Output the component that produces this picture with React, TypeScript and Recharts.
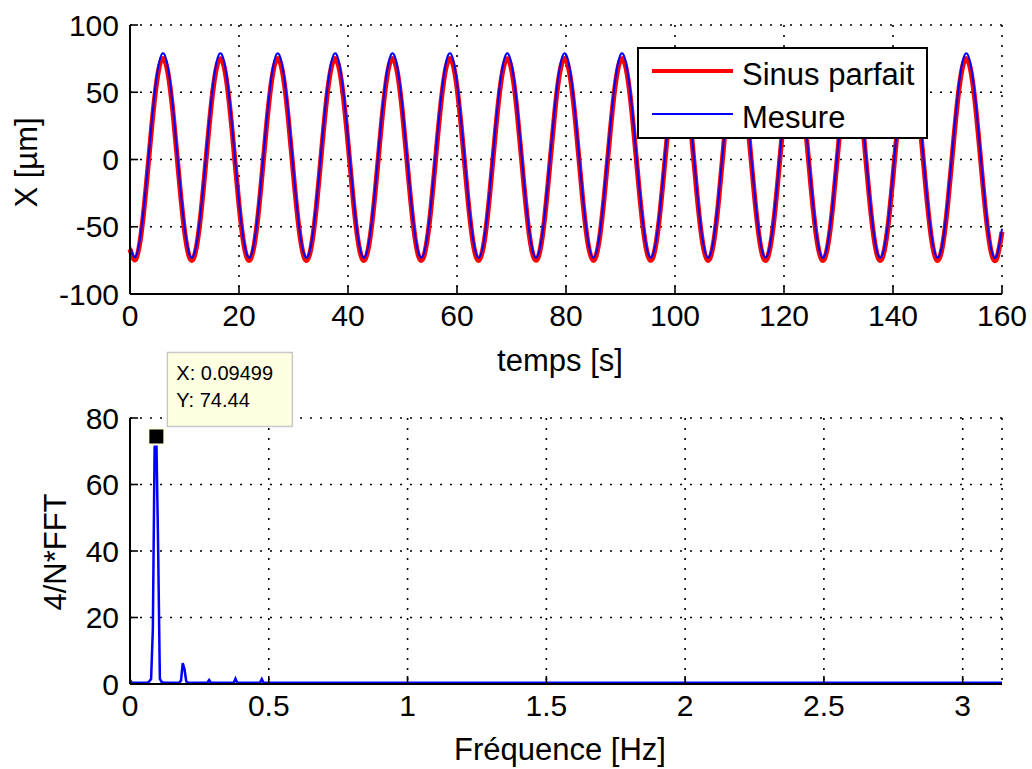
import React from 'react';
import { LineChart, Line, XAxis, YAxis, CartesianGrid, Legend, ReferenceDot, Label } from 'recharts';

const FONT = '"Liberation Sans", Arial, Helvetica, sans-serif';

// ---- top plot: time signal ----
const temps = [
  0, 1, 2, 3, 4, 5, 6, 7, 8, 9, 10, 11, 12, 13, 14, 15, 16, 17, 18, 19,
  20, 21, 22, 23, 24, 25, 26, 27, 28, 29, 30, 31, 32, 33, 34, 35, 36, 37, 38, 39,
  40, 41, 42, 43, 44, 45, 46, 47, 48, 49, 50, 51, 52, 53, 54, 55, 56, 57, 58, 59,
  60, 61, 62, 63, 64, 65, 66, 67, 68, 69, 70, 71, 72, 73, 74, 75, 76, 77, 78, 79,
  80, 81, 82, 83, 84, 85, 86, 87, 88, 89, 90, 91, 92, 93, 94, 95, 96, 97, 98, 99,
  100, 101, 102, 103, 104, 105, 106, 107, 108, 109, 110, 111, 112, 113, 114, 115, 116, 117, 118, 119,
  120, 121, 122, 123, 124, 125, 126, 127, 128, 129, 130, 131, 132, 133, 134, 135, 136, 137, 138, 139,
  140, 141, 142, 143, 144, 145, 146, 147, 148, 149, 150, 151, 152, 153, 154, 155, 156, 157, 158, 159,
  160,
];

const sinusParfait = [
  -66.7, -74.4, -56.5, -19.0, 25.1, 60.5, 75.0, 63.5, 30.1, -13.7,
  -52.8, -73.6, -69.0, -40.5, 2.0, 43.8, 70.4, 72.7, 49.9, 9.8,
  -33.7, -65.5, -74.7, -58.1, -21.3, 22.8, 59.0, 74.8, 64.8, 32.3,
  -11.3, -51.0, -73.1, -69.9, -42.6, -0.5, 41.8, 69.5, 73.3, 51.7,
  12.2, -31.5, -64.3, -74.9, -59.6, -23.7, 20.4, 57.4, 74.6, 66.0,
  34.6, -8.8, -49.1, -72.5, -70.8, -44.6, -2.9, 39.7, 68.6, 73.8,
  53.5, 14.7, -29.2, -63.0, -75.0, -61.1, -26.0, 18.0, 55.8, 74.3,
  67.1, 36.7, -6.4, -47.3, -71.8, -71.5, -46.5, -5.4, 37.6, 67.6,
  74.2, 55.2, 17.1, -26.9, -61.6, -75.0, -62.5, -28.3, 15.6, 54.1,
  74.0, 68.2, 38.9, -3.9, -45.3, -71.1, -72.2, -48.4, -7.9, 35.4,
  66.5, 74.5, 56.8, 19.5, -24.6, -60.2, -74.9, -63.8, -30.6, 13.2,
  52.4, 73.5, 69.2, 40.9, -1.5, -43.3, -70.3, -72.9, -50.3, -10.3,
  33.2, 65.3, 74.8, 58.4, 21.8, -22.3, -58.7, -74.8, -65.0, -32.8,
  10.8, 50.6, 73.0, 70.1, 43.0, 1.0, -41.3, -69.4, -73.4, -52.1,
  -12.8, 31.0, 64.0, 74.9, 59.9, 24.2, -19.9, -57.1, -74.6, -66.2,
  -35.0, 8.3, 48.8, 72.4, 70.9, 45.0, 3.5, -39.2, -68.4, -73.9,
  -53.8,
];

const mesure = [
  -64.6, -72.4, -54.2, -16.2, 28.4, 64.3, 79.0, 67.4, 33.5, -10.9,
  -50.5, -71.6, -66.9, -38.0, 5.0, 47.4, 74.4, 76.7, 53.6, 12.9,
  -31.1, -63.4, -72.7, -55.8, -18.6, 26.1, 62.8, 78.8, 68.6, 35.8,
  -8.4, -48.7, -71.1, -67.8, -40.1, 2.5, 45.3, 73.5, 77.3, 55.4,
  15.4, -28.9, -62.1, -72.9, -57.4, -21.0, 23.7, 61.2, 78.6, 69.9,
  38.0, -6.0, -46.8, -70.5, -68.7, -42.2, 0.0, 43.2, 72.5, 77.8,
  57.2, 17.9, -26.6, -60.8, -73.0, -58.9, -23.4, 21.3, 59.6, 78.3,
  71.0, 40.2, -3.5, -44.9, -69.8, -69.5, -44.1, -2.5, 41.1, 71.5,
  78.2, 58.9, 20.3, -24.3, -59.4, -73.0, -60.3, -25.7, 18.8, 57.9,
  77.9, 72.1, 42.4, -1.0, -42.9, -69.0, -70.2, -46.1, -5.0, 38.9,
  70.3, 78.5, 60.6, 22.7, -21.9, -58.0, -72.9, -61.6, -28.0, 16.4,
  56.1, 77.5, 73.1, 44.5, 1.5, -40.9, -68.2, -70.8, -48.0, -7.5,
  36.7, 69.1, 78.7, 62.2, 25.1, -19.6, -56.5, -72.8, -62.9, -30.3,
  13.9, 54.3, 76.9, 74.0, 46.6, 4.0, -38.9, -67.3, -71.4, -49.8,
  -9.9, 34.4, 67.9, 78.9, 63.7, 27.5, -17.2, -54.9, -72.6, -64.1,
  -32.5, 11.4, 52.4, 76.3, 74.9, 48.6, 6.5, -36.8, -66.3, -71.9,
  -51.5,
];

const seriesNames = ['Sinus parfait', 'Mesure'];
const timeTicks = [0, 20, 40, 60, 80, 100, 120, 140, 160];
const xTicks = [-100, -50, 0, 50, 100];

// ---- bottom plot: spectrum ----
const freqHz = [
  0, 0.0063, 0.0633, 0.0697, 0.076, 0.0823, 0.0886, 0.09499, 0.1013, 0.1076,
  0.114, 0.1203, 0.1773, 0.1837, 0.19, 0.1963, 0.2026, 0.209, 0.2786, 0.285,
  0.2913, 0.3736, 0.38, 0.3863, 0.4686, 0.475, 0.4813, 3.1416,
];
const fftAmp = [
  1.2, 0.4, 0.4, 0.8, 1.5, 16.5, 71.0, 74.44, 41.3, 1.5,
  0.6, 0.4, 0.4, 1.0, 6.3, 4.5, 0.8, 0.4, 0.4, 1.2,
  0.4, 0.4, 1.6, 0.4, 0.4, 1.5, 0.4, 0.4,
];
const freqTicks = [0, 0.5, 1, 1.5, 2, 2.5, 3];
const ampTicks = [0, 20, 40, 60, 80];
const peakFreq = 0.09499;
const peakAmp = 74.44;

const timeData = temps.map((t, i) => ({ t, sinus: sinusParfait[i], mesure: mesure[i] }));
const fftData = freqHz.map((f, i) => ({ f, amp: fftAmp[i] }));

const tickStyle = { fill: '#000', fontSize: 30, fontFamily: FONT };
const axisLineStyle = { stroke: '#000', strokeWidth: 2 };
const tickLineStyle = { stroke: '#000', strokeWidth: 1.6 };

const vLabel = (text: string, dxFromAxis: number, dy: number) => (props: any) => {
  const vb = props.viewBox || {};
  const x = vb.x - dxFromAxis;
  const y = vb.y + vb.height / 2 + dy;
  return (
    <text x={x} y={y} transform={`rotate(-90 ${x} ${y})`} textAnchor="middle" fill="#000" fontSize={31} fontFamily={FONT}>
      {text}
    </text>
  );
};

const hLabel = (text: string, dyFromAxis: number, dx: number) => (props: any) => {
  const vb = props.viewBox || {};
  const x = vb.x + vb.width / 2 + dx;
  const y = vb.y + dyFromAxis;
  return (
    <text x={x} y={y} textAnchor="middle" fill="#000" fontSize={31} fontFamily={FONT}>
      {text}
    </text>
  );
};

const LegendBox = (props: any) => {
  const payload = [...(props.payload || [])].sort(
    (a: any, b: any) => seriesNames.indexOf(a.value) - seriesNames.indexOf(b.value)
  );
  return (
    <svg width={291} height={92} style={{ display: 'block' }}>
      <rect x={1} y={1} width={289} height={90} fill="#fff" stroke="#000" strokeWidth={2} />
      {payload.map((entry: any, i: number) => {
        const ly = 24 + i * 43;
        const sw = (entry.payload && entry.payload.strokeWidth) || 2;
        return (
          <g key={i}>
            <line x1={15} x2={96} y1={ly} y2={ly} stroke={entry.color} strokeWidth={Math.min(sw, 4)} />
            <text x={105} y={ly + 14} fill="#000" fontSize={31} fontFamily={FONT}>
              {entry.value}
            </text>
          </g>
        );
      })}
    </svg>
  );
};

const DataTip = (props: any) => {
  const { cx, cy } = props;
  if (cx == null || cy == null) return null;
  return (
    <g>
      <rect x={cx + 11} y={cy - 84} width={125} height={74} fill="#ffffe1" stroke="#c8c8c8" strokeWidth={1.5} />
      <text x={cx + 20} y={cy - 56} fill="#000" fontSize={20} fontFamily={FONT}>{`X: ${peakFreq}`}</text>
      <text x={cx + 20} y={cy - 29} fill="#000" fontSize={20} fontFamily={FONT}>{`Y: ${peakAmp}`}</text>
      <rect x={cx - 8} y={cy - 8} width={16} height={16} fill="#000" stroke="#ffffe1" strokeWidth={2} />
    </g>
  );
};

export default function App() {
  return (
    <div style={{ position: 'absolute', left: 0, top: 0, width: 1032, height: 769, background: '#fff', overflow: 'hidden' }}>
      <div style={{ position: 'absolute', left: 0, top: 0 }}>
        <LineChart width={1032} height={769} data={timeData} margin={{ top: 25, right: 30, left: 70, bottom: 415 }}>
          <CartesianGrid stroke="#000" strokeWidth={1.6} strokeDasharray="2 8" />
          <XAxis
            dataKey="t"
            type="number"
            domain={[0, 160]}
            ticks={timeTicks}
            interval={0}
            height={60}
            tickSize={-8}
            tickMargin={19}
            tick={tickStyle}
            axisLine={axisLineStyle}
            tickLine={tickLineStyle}
          >
            <Label content={hLabel('temps [s]', 77, -6)} />
          </XAxis>
          <YAxis
            type="number"
            domain={[-100, 100]}
            ticks={xTicks}
            interval={0}
            width={60}
            tickSize={-8}
            tickMargin={19}
            tick={tickStyle}
            axisLine={axisLineStyle}
            tickLine={tickLineStyle}
          >
            <Label content={vLabel('X [µm]', 33, 3)} />
          </YAxis>
          <Line type="natural" dataKey="sinus" name="Sinus parfait" stroke="#ff0000" strokeWidth={5} dot={false} isAnimationActive={false} />
          <Line type="natural" dataKey="mesure" name="Mesure" stroke="#0000ff" strokeWidth={2} dot={false} isAnimationActive={false} />
          <Legend
            layout="vertical"
            align="center"
            verticalAlign="middle"
            width={291}
            height={92}
            wrapperStyle={{ left: 637, top: 47, width: 291, height: 92 }}
            content={<LegendBox />}
          />
        </LineChart>
      </div>
      <div style={{ position: 'absolute', left: 0, top: 0 }}>
        <LineChart width={1032} height={769} data={fftData} margin={{ top: 418, right: 30, left: 70, bottom: 25 }}>
          <CartesianGrid stroke="#000" strokeWidth={1.6} strokeDasharray="2 8" />
          <XAxis
            dataKey="f"
            type="number"
            domain={[0, 3.1416]}
            allowDataOverflow
            ticks={freqTicks}
            interval={0}
            height={60}
            tickSize={-8}
            tickMargin={19}
            tick={tickStyle}
            axisLine={axisLineStyle}
            tickLine={tickLineStyle}
          >
            <Label content={hLabel('Fréquence [Hz]', 76, -6)} />
          </XAxis>
          <XAxis
            xAxisId="top"
            orientation="top"
            type="number"
            domain={[0, 3.1416]}
            allowDataOverflow
            ticks={freqTicks}
            interval={0}
            height={0}
            tickSize={-8}
            tick={false}
            axisLine={axisLineStyle}
            tickLine={tickLineStyle}
          />
          <YAxis
            type="number"
            domain={[0, 80]}
            ticks={ampTicks}
            interval={0}
            width={60}
            tickSize={-8}
            tickMargin={19}
            tick={tickStyle}
            axisLine={axisLineStyle}
            tickLine={tickLineStyle}
          >
            <Label content={vLabel('4/N*FFT', 4, 1)} />
          </YAxis>
          <YAxis
            yAxisId="right"
            orientation="right"
            type="number"
            domain={[0, 80]}
            ticks={ampTicks}
            interval={0}
            width={0}
            tickSize={-8}
            tick={false}
            axisLine={axisLineStyle}
            tickLine={tickLineStyle}
          />
          <Line type="linear" dataKey="amp" stroke="#0000ff" strokeWidth={2.5} dot={false} isAnimationActive={false} />
          <ReferenceDot x={peakFreq} y={peakAmp} ifOverflow="visible" shape={<DataTip />} />
        </LineChart>
      </div>
    </div>
  );
}
